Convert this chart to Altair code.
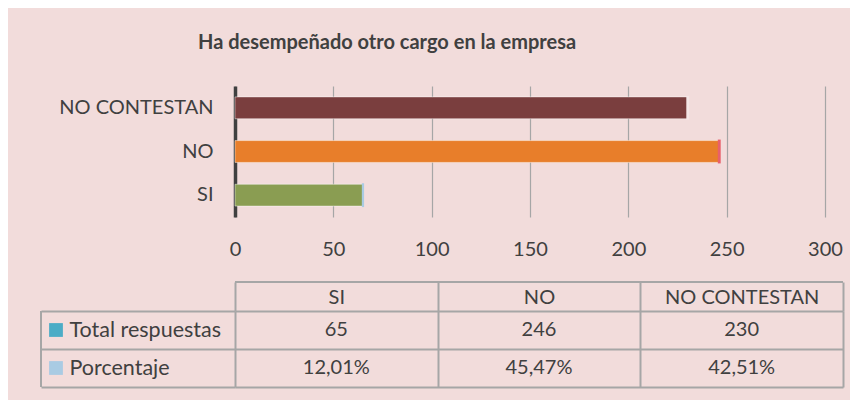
import altair as alt
import pandas as pd

# ---------------- data ----------------
categories = ["SI", "NO", "NO CONTESTAN"]
totals = [65, 246, 230]
pct_values = [12.01, 45.47, 42.51]
pct_labels = ["12,01%", "45,47%", "42,51%"]
bar_colors = ["#8A9D52", "#E87E2A", "#7A3E3E"]
tip_colors = ["#A9CBE3", "#E8606A", "#F4E6E6"]
row_names = ["Total respuestas", "Porcentaje"]
swatch_colors = ["#4BACC6", "#A9CBE3"]
x_ticks = [0, 50, 100, 150, 200, 250, 300]
title_text = "Ha desempeñado otro cargo en la empresa"

FONT = "Lato"
TXT = "#404040"
GRID = "#A6A6A6"
BG = "#F2DCDB"

y_order = ["NO CONTESTAN", "NO", "SI"]

bars_df = pd.DataFrame({
    "cat": categories,
    "total": totals,
    "pct_end": [t + p / 100 for t, p in zip(totals, pct_values)],
    "color": bar_colors,
    "tip": tip_colors,
})

base = alt.Chart(bars_df)

bars = base.mark_bar(stroke="#FFFFFF", strokeOpacity=0.45, strokeWidth=1).encode(
    y=alt.Y("cat:N", sort=y_order, title=None,
            scale=alt.Scale(paddingInner=0.5, paddingOuter=0.25),
            axis=alt.Axis(domain=True, domainColor="#404040", domainWidth=3.5,
                          ticks=False, grid=False, labelPadding=22,
                          labelFontSize=20, labelColor=TXT, labelFont=FONT)),
    x=alt.X("total:Q", title=None, scale=alt.Scale(domain=[0, 300], nice=False),
            axis=alt.Axis(values=x_ticks, domain=False, ticks=False, grid=True,
                          gridColor=GRID, gridWidth=1.2, labelPadding=22,
                          labelFlush=False, labelOverlap=False,
                          labelFontSize=20, labelColor=TXT, labelFont=FONT)),
    color=alt.Color("color:N", scale=None, legend=None),
)

tips = base.mark_bar(strokeWidth=2).encode(
    y=alt.Y("cat:N", sort=y_order),
    x=alt.X("total:Q"),
    x2="pct_end:Q",
    color=alt.Color("tip:N", scale=None, legend=None),
    stroke=alt.Stroke("tip:N", scale=None, legend=None),
)

top = alt.layer(bars, tips).properties(
    width=590, height=131,
    title=alt.Title(title_text, anchor="start", frame="group", dx=-37, offset=33,
                    fontSize=20, font=FONT, fontWeight="bold", color=TXT),
    view=alt.ViewBackground(stroke=None),
)

# ---------------- data table ----------------
cells = pd.DataFrame({
    "row": [row_names[0]] * 3 + [row_names[1]] * 3,
    "cat": categories * 2,
    "text": [str(t) for t in totals] + pct_labels,
})
legend_df = pd.DataFrame({"row": row_names, "swatch": swatch_colors})

TW, TH = 608, 76

text_layer = alt.Chart(cells).mark_text(font=FONT, fontSize=20, color=TXT).encode(
    x=alt.X("cat:N", sort=categories, title=None,
            scale=alt.Scale(paddingInner=0, paddingOuter=0),
            axis=alt.Axis(orient="top", domain=False, ticks=True, tickBand="extent",
                          tickSize=29, tickColor=GRID, tickWidth=2,
                          grid=True, gridColor=GRID, gridWidth=2,
                          labelAngle=0, labelBaseline="middle", labelPadding=-15,
                          labelFontSize=20, labelColor=TXT, labelFont=FONT)),
    y=alt.Y("row:N", sort=row_names, title=None,
            scale=alt.Scale(paddingInner=0, paddingOuter=0),
            axis=alt.Axis(orient="left", domain=False, ticks=True, tickBand="extent",
                          tickSize=194, tickColor=GRID, tickWidth=2,
                          grid=True, gridColor=GRID, gridWidth=2,
                          labelAlign="left", labelPadding=-28,
                          labelFontSize=21.5, labelColor=TXT, labelFont=FONT)),
    text="text:N",
)

swatches = alt.Chart(legend_df).mark_square(size=190, opacity=1).encode(
    y=alt.Y("row:N", sort=row_names),
    x=alt.value(-179),
    color=alt.Color("swatch:N", scale=None, legend=None),
)

header_top = alt.Chart(legend_df).mark_rule(color=GRID, strokeWidth=2).encode(
    x=alt.value(0), x2=alt.value(TW), y=alt.value(-29)
)
left_edge = alt.Chart(legend_df).mark_rule(color=GRID, strokeWidth=2).encode(
    x=alt.value(-194), y=alt.value(0), y2=alt.value(TH)
)

table = alt.layer(text_layer, swatches, header_top, left_edge).properties(
    width=TW, height=TH, view=alt.ViewBackground(stroke=None)
)

chart = alt.vconcat(top, table, spacing=22).properties(
    padding={"left": 32, "top": 25, "right": 6, "bottom": 12}
).configure(background=BG)

chart.save("out.html", embed_options={"renderer": "svg", "actions": False})
